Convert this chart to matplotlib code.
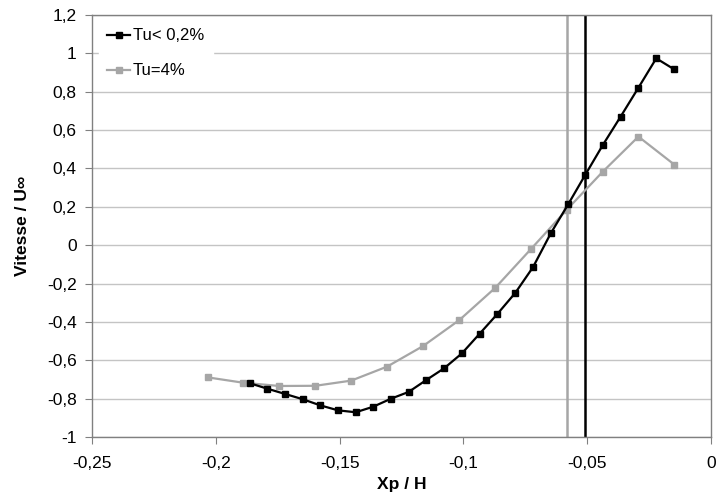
import matplotlib.pyplot as plt
from matplotlib.ticker import FuncFormatter, MultipleLocator

# Tu < 0,2 % (black)
x_low = [-0.1862, -0.1792, -0.1719, -0.1649, -0.1578, -0.1506, -0.1435, -0.1364,
         -0.1292, -0.1221, -0.1150, -0.1078, -0.1006, -0.0934, -0.0863, -0.0790,
         -0.0719, -0.0647, -0.0576, -0.0509, -0.0436, -0.0365, -0.0293, -0.0221,
         -0.0149]
v_low = [-0.720, -0.748, -0.776, -0.803, -0.835, -0.861, -0.871, -0.842,
         -0.800, -0.765, -0.703, -0.642, -0.564, -0.461, -0.359, -0.248,
         -0.115, 0.062, 0.215, 0.364, 0.524, 0.670, 0.821, 0.974,
         0.917]

# Tu = 4 % (gray)
x_high = [-0.2033, -0.1889, -0.1744, -0.1598, -0.1453, -0.1308, -0.1163,
          -0.1016, -0.0871, -0.0727, -0.0583, -0.0438, -0.0293, -0.0148]
v_high = [-0.689, -0.717, -0.734, -0.733, -0.706, -0.633, -0.526,
          -0.390, -0.222, -0.020, 0.184, 0.382, 0.566, 0.420]

# vertical markers
xv_high = -0.058
xv_low = -0.051

labels = ["Tu< 0,2%", "Tu=4%"]

GRAY = "#a6a6a6"
GRID = "#c4c4c4"
FRAME = "#808080"


def comma(v, pos):
    s = "%g" % round(v, 3)
    if s == "-0":
        s = "0"
    return s.replace(".", ",")


plt.rcParams['font.family'] = ['Liberation Sans', 'DejaVu Sans']

fig = plt.figure(figsize=(7.17, 4.97), dpi=100)
ax = fig.add_axes([0.1283, 0.1207, 0.8633, 0.8491])

ax.axvline(xv_high, color=GRAY, lw=1.8, zorder=2)
ax.axvline(xv_low, color="black", lw=1.8, zorder=2)

ax.plot(x_low, v_low, "s-", color="black", lw=1.6, ms=5, label=labels[0], zorder=4)
ax.plot(x_high, v_high, "s-", color=GRAY, lw=1.6, ms=5, label=labels[1], zorder=3)

ax.set_xlim(-0.25, 0)
ax.set_ylim(-1, 1.2)
ax.xaxis.set_major_locator(MultipleLocator(0.05))
ax.yaxis.set_major_locator(MultipleLocator(0.2))
ax.xaxis.set_major_formatter(FuncFormatter(comma))
ax.yaxis.set_major_formatter(FuncFormatter(comma))

ax.grid(axis="y", color=GRID, lw=1)
ax.set_axisbelow(True)
for s in ax.spines.values():
    s.set_color(FRAME)
    s.set_linewidth(1)
ax.tick_params(axis="both", direction="out", length=5, color=FRAME,
               labelsize=12.5)
ax.tick_params(axis="x", pad=9)
ax.tick_params(axis="y", pad=6)

ax.set_xlabel("Xp / H", fontsize=12.5, fontweight="bold", labelpad=4)
ax.set_ylabel("Vitesse / U\u221e", fontsize=12.5, fontweight="bold", labelpad=12)

leg = ax.legend(loc="upper left", frameon=True, fontsize=12, handlelength=1.4,
                handletextpad=0.15, borderpad=0.5, labelspacing=1.2,
                borderaxespad=0, bbox_to_anchor=(0.011, 0.988))
leg.get_frame().set_edgecolor("white")
leg.get_frame().set_facecolor("white")
leg.get_frame().set_alpha(1)

fig.savefig("out.png", dpi=100)
